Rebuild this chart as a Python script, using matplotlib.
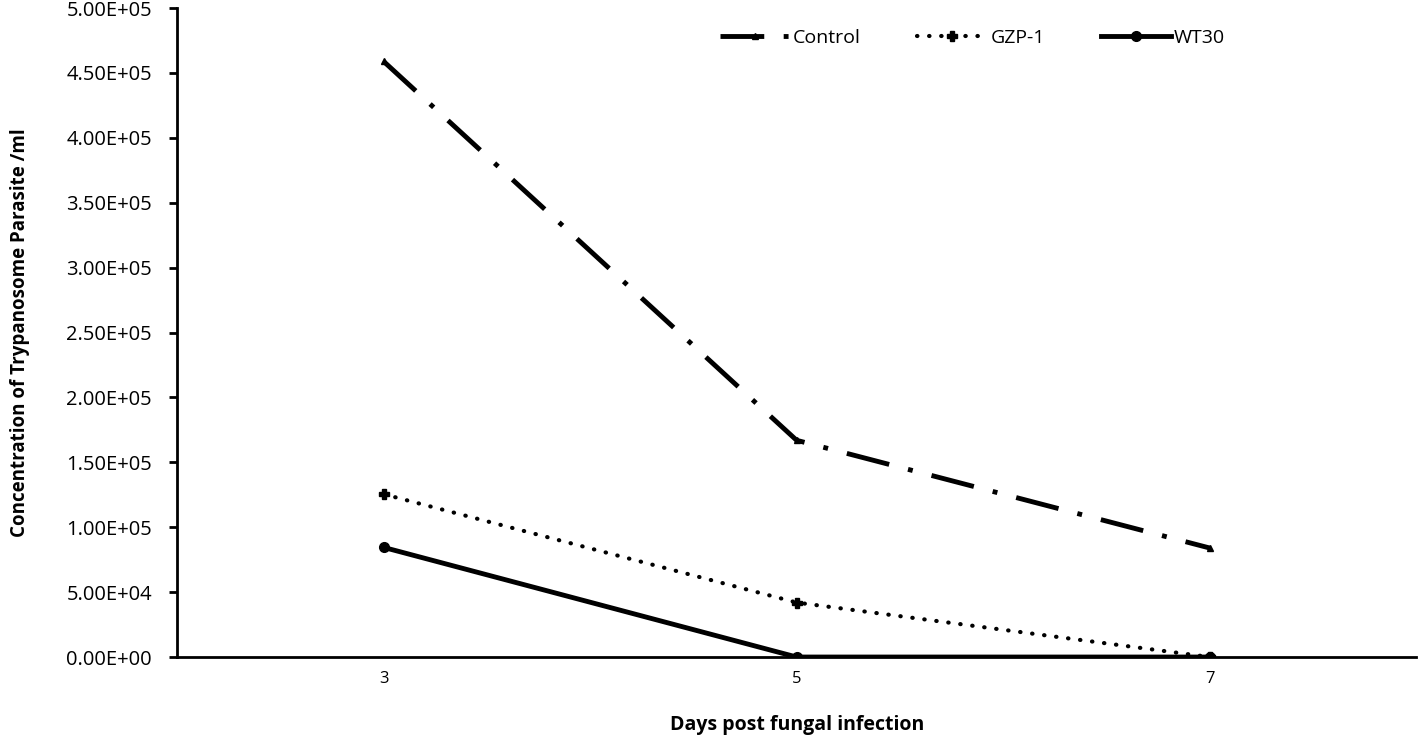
import matplotlib
matplotlib.use("Agg")
import matplotlib.pyplot as plt
from matplotlib.ticker import FuncFormatter

days = ["3", "5", "7"]
control = [4.59e5, 1.67e5, 8.4e4]
gzp1 = [1.255e5, 4.2e4, 0]
wt30 = [8.45e4, 0, 0]
yticks = [0, 5e4, 1e5, 1.5e5, 2e5, 2.5e5, 3e5, 3.5e5, 4e5, 4.5e5, 5e5]

plt.rcParams['font.family'] = ['Open Sans', 'DejaVu Sans']

fig = plt.figure(figsize=(14.18, 7.37), dpi=100)
ax = fig.add_axes([0.1248, 0.1085, 0.874, 0.8805])
x = list(range(len(days)))

ax.plot(x, control, color='black', lw=3.5, dashes=(9, 4, 1, 4), marker='^', ms=5,
        label='Control', solid_capstyle='butt', dash_capstyle='butt')
ax.plot(x, gzp1, color='black', lw=3, dashes=(0.1, 2.8), dash_capstyle='round', marker='P', ms=7,
        label='GZP-1')
ax.plot(x, wt30, color='black', lw=3.5, marker='o', ms=7, label='WT30')

ax.set_xlim(-0.5, 2.5)
ax.set_ylim(0, 5e5)
ax.set_xticks(x)
ax.set_xticklabels(days)
ax.set_yticks(yticks)
ax.yaxis.set_major_formatter(FuncFormatter(lambda v, p: f"{v:.2E}"))
ax.tick_params(axis='x', length=0, labelsize=12, pad=10)
ax.tick_params(axis='y', length=6, width=2, labelsize=14.5, pad=12)
for s in ['top', 'right']:
    ax.spines[s].set_visible(False)
for s in ['left', 'bottom']:
    ax.spines[s].set_linewidth(2)

ax.set_xlabel('Days post fungal infection', fontsize=14, fontweight='bold', labelpad=20)
ax.set_ylabel('Concentration of Trypanosome Parasite /ml', fontsize=13.5, fontweight='bold', labelpad=26)

ax.legend(loc='upper center', bbox_to_anchor=(0.642, 0.995), ncol=3, frameon=False, fontsize=14,
          handlelength=3.6, columnspacing=2.9, handletextpad=0.15)

fig.savefig('out.png', dpi=100)
